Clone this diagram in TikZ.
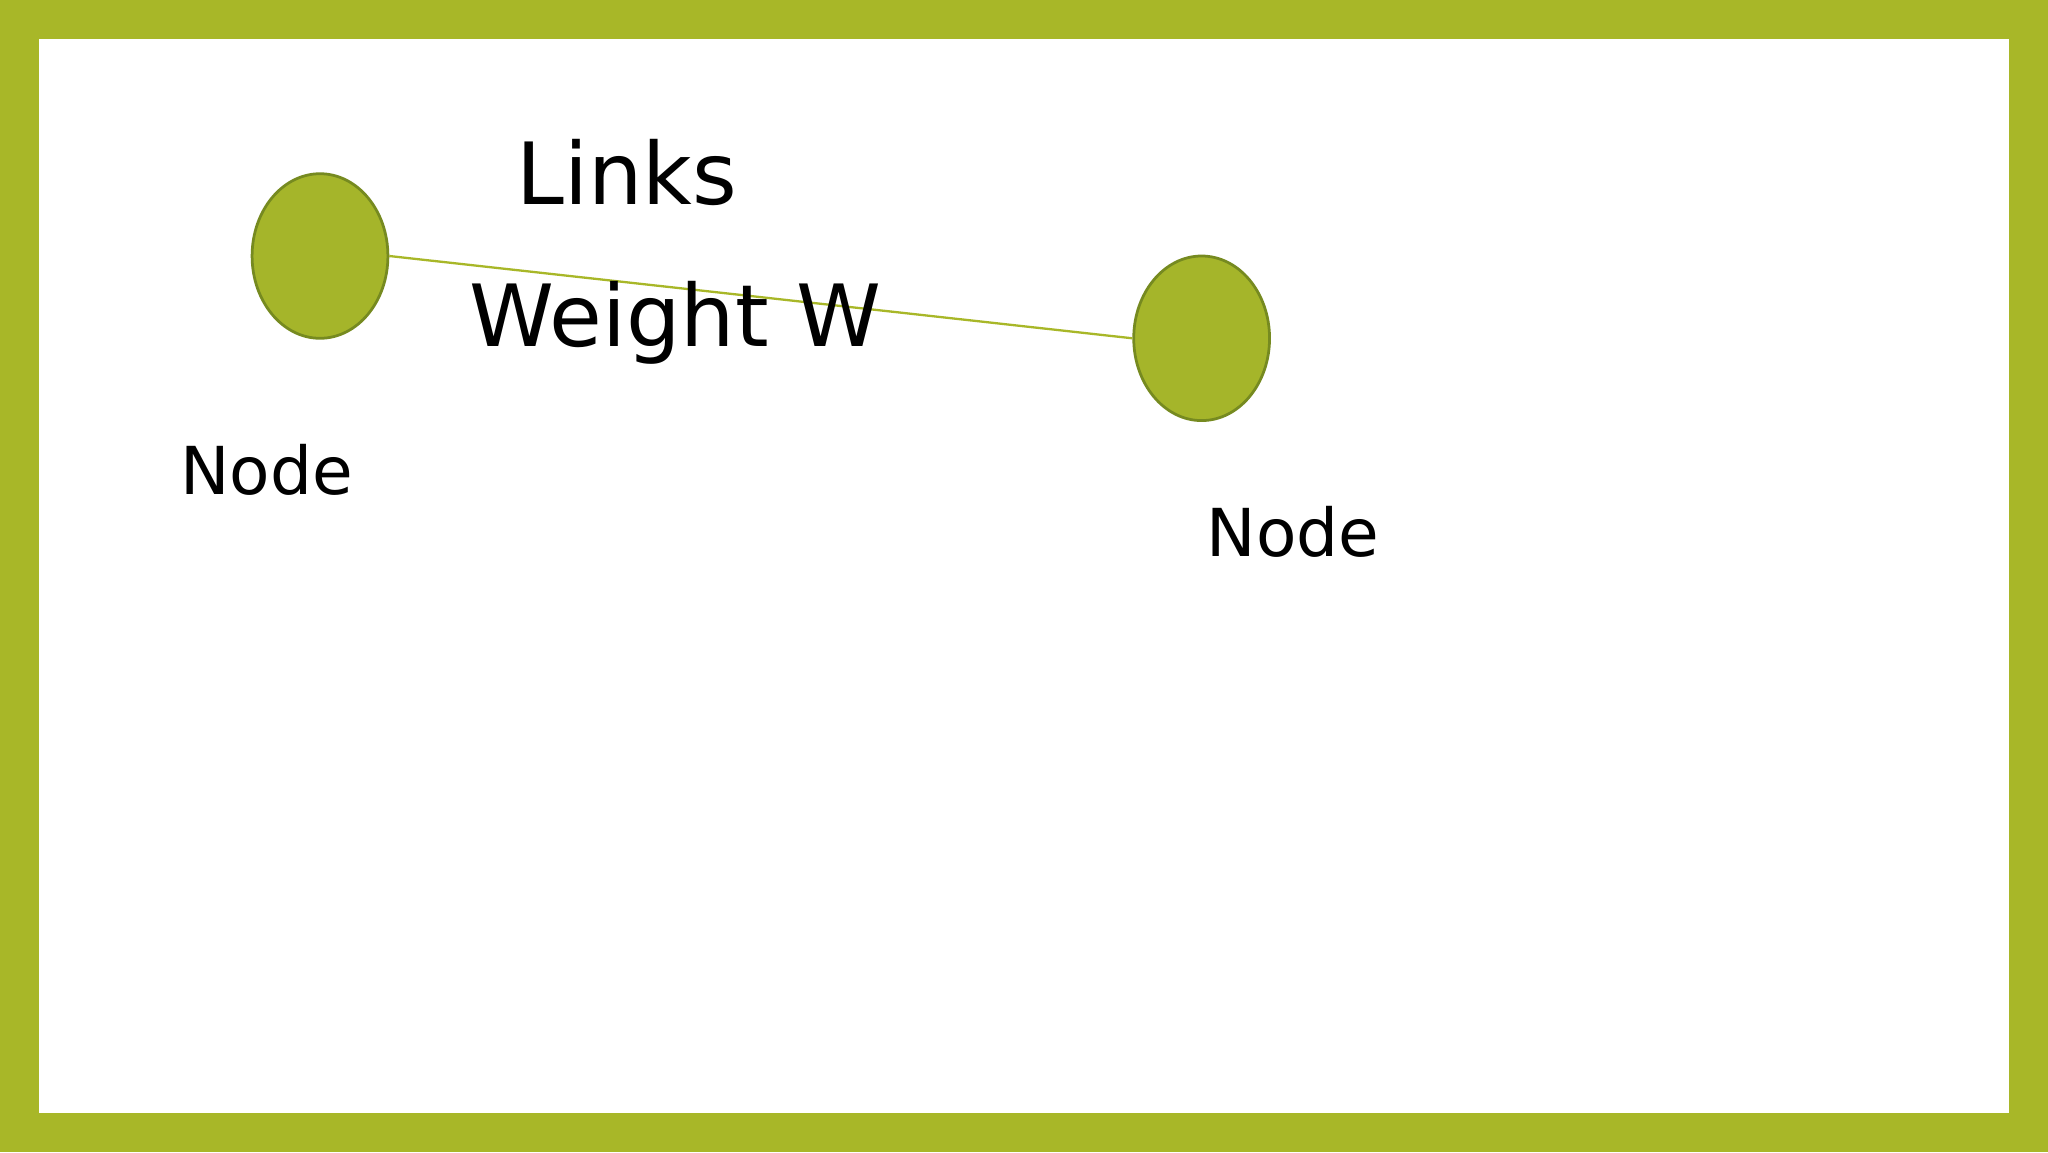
\documentclass[tikz,border=0pt]{standalone}
\usepackage{fontspec}
\setmainfont{DejaVu Sans}
\usetikzlibrary{shapes.geometric}
\definecolor{frame}{RGB}{168,183,40}
\definecolor{nodefill}{RGB}{165,181,42}
\definecolor{nodeedge}{RGB}{118,138,32}
\tikzset{
  dot/.style={ellipse,fill=nodefill,draw=nodeedge,line width=0.6pt,minimum width=1.04cm,minimum height=1.26cm,inner sep=0pt},
  big/.style={font=\fontsize{18.7}{22}\selectfont,inner sep=0pt},
  small/.style={font=\fontsize{14.4}{17}\selectfont,inner sep=0pt},
  link/.style={draw=frame,line width=0.5pt}
}
\begin{document}
\begin{tikzpicture}
\useasboundingbox (0,0) rectangle (15.68,8.82);
\fill[frame] (0,0) rectangle (15.68,8.82);
\fill[white] (0.30,0.30) rectangle (15.38,8.52);
\node[dot] (a) at (2.45,6.86) {};
\node[dot] (b) at (9.20,6.23) {};
\draw[link] (a.east) -- (b.west);
\node[big] (links) at (4.80,7.50) {Links};
\node[big] (w) at (5.17,6.35) {Weight W};
\node[small] (n1) at (2.04,5.22) {Node};
\node[small] (n2) at (9.90,4.75) {Node};
\end{tikzpicture}
\end{document}
